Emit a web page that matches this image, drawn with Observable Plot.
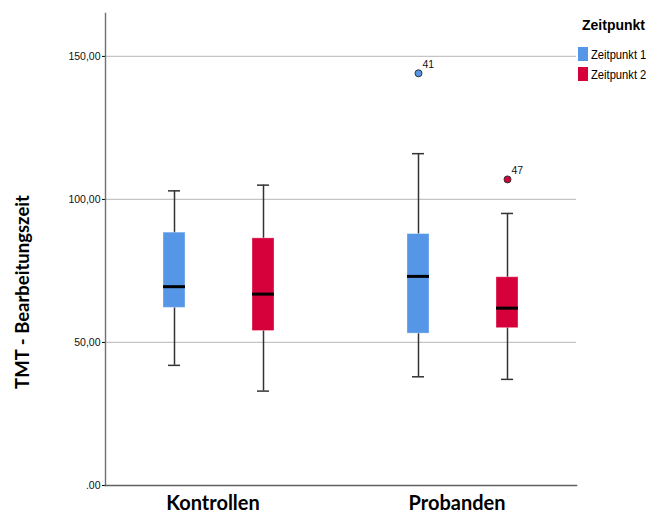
<!DOCTYPE html>
<html>
<head>
<meta charset="utf-8">
<script src="https://cdn.jsdelivr.net/npm/d3@7"></script>
<script src="https://cdn.jsdelivr.net/npm/@observablehq/plot@0.6"></script>
<style>
  body { margin: 0; background: #fff; }
  #wrap { position: relative; width: 646px; height: 515px; overflow: hidden; }
  #legend { position: absolute; left: 578px; top: 0; width: 68px; color: #000; }
  #legend .title { position: absolute; left: 4px; top: 17px; font: bold 14px/16px "Liberation Sans", Arial, sans-serif; white-space: nowrap; }
  #legend .item { position: absolute; left: 0; width: 68px; height: 14px; white-space: nowrap; }
  #legend .sw { position: absolute; left: 0; top: 0; width: 10px; height: 14px; }
  #legend .lab { position: absolute; left: 13px; top: 1px; white-space: nowrap; font: 13px/14px "Liberation Sans", Arial, sans-serif; transform: scaleX(0.86); transform-origin: 0 50%; }
  #ylab { position: absolute; left: -128px; top: 280px; width: 300px; height: 24px; line-height: 24px; text-align: center; transform: rotate(-90deg); font-family: Lato, "Open Sans", sans-serif; font-weight: bold; font-size: 18.5px; color: #000; white-space: nowrap; }
  svg g[aria-label="y-axis tick label"] text { font-family: "Liberation Sans", Arial, sans-serif; font-size: 10.5px; fill: #111; }
  svg g[aria-label="y-axis tick"] { stroke: #777; }
  svg g[aria-label="fx-axis tick label"] text { font-family: Lato, "Open Sans", sans-serif; font-size: 20px; font-weight: bold; fill: #000; }
</style>
</head>
<body>
<div id="wrap"></div>
<script>
// ---- data ----
const groups = ["Kontrollen", "Probanden"];
const series = ["Zeitpunkt 1", "Zeitpunkt 2"];
const colors = ["#5596E6", "#D6003A"];
// order of the five-number summaries: Kontrollen/Z1, Kontrollen/Z2, Probanden/Z1, Probanden/Z2
const whiskerLow  = [42.0, 33.0, 38.0, 37.1];
const quart1      = [62.1, 54.0, 53.1, 55.0];
const medians     = [69.5, 66.9, 73.1, 62.0];
const quart3      = [88.4, 86.4, 87.9, 72.8];
const whiskerHigh = [103.0, 105.0, 116.0, 95.1];
// outliers
const outlierGroup  = ["Probanden", "Probanden"];
const outlierSeries = ["Zeitpunkt 1", "Zeitpunkt 2"];
const outlierValue  = [144.1, 107.0];
const outlierLabel  = ["41", "47"];
// axis
const yTicks = [0, 50, 100, 150];
const yTickLabels = [".00", "50,00", "100,00", "150,00"];
const yLabel = "TMT - Bearbeitungszeit";
const legendTitle = "Zeitpunkt";

// ---- tables ----
const cells = groups.flatMap((g, gi) => series.map((s, si) => {
  const i = gi * series.length + si;
  return {group: g, series: s, lo: whiskerLow[i], q1: quart1[i], median: medians[i], q3: quart3[i], hi: whiskerHigh[i]};
}));
const outliers = outlierValue.map((v, i) => ({group: outlierGroup[i], series: outlierSeries[i], value: v, label: outlierLabel[i]}));
const gridTicks = yTicks.filter(t => t > 0);

// layout
const W = 646, H = 515, mL = 104, mR = 70, mT = 13, mB = 30;
const fxPadInner = 0.07;
const facetGap = fxPadInner * (W - mL - mR) / (groups.length - fxPadInner);

const chart = Plot.plot({
  width: W,
  height: H,
  marginTop: mT,
  marginBottom: mB,
  marginLeft: mL,
  marginRight: mR,
  style: {background: "#fff"},
  fx: {domain: groups, paddingInner: fxPadInner, paddingOuter: 0, label: null, axis: null},
  x: {domain: series, paddingInner: 0.756, paddingOuter: 0.64, axis: null},
  y: {domain: [0, 165], ticks: yTicks, tickFormat: d => yTickLabels[yTicks.indexOf(d)], tickSize: 3, tickPadding: 2, label: null},
  color: {domain: series, range: colors},
  marks: [
    // grid: first facet's rules extend over the gap between the facets
    Plot.ruleY(gridTicks, {y: d => d, fx: () => groups[0], insetRight: -facetGap, stroke: "#c4c4c4", strokeWidth: 1.3}),
    Plot.ruleY(gridTicks, {y: d => d, fx: () => groups[1], stroke: "#c4c4c4", strokeWidth: 1.3}),
    Plot.frame({anchor: "left", facet: "super", stroke: "#707070", strokeWidth: 1.4}),
    Plot.frame({anchor: "bottom", facet: "super", stroke: "#606060", strokeWidth: 1.6}),
    Plot.axisFx({anchor: "bottom", tickSize: 0, tickPadding: 10, dx: -6, label: null}),
    Plot.ruleX(cells, {fx: "group", x: "series", y1: "lo", y2: "hi", stroke: "#333", strokeWidth: 1.5}),
    Plot.tickY(cells, {fx: "group", x: "series", y: "lo", insetLeft: 5, insetRight: 5, stroke: "#333", strokeWidth: 1.5}),
    Plot.tickY(cells, {fx: "group", x: "series", y: "hi", insetLeft: 5, insetRight: 5, stroke: "#333", strokeWidth: 1.5}),
    Plot.barY(cells, {fx: "group", x: "series", y1: "q1", y2: "q3", fill: "series", stroke: "#fff", strokeOpacity: 0.35, strokeWidth: 1}),
    Plot.tickY(cells, {fx: "group", x: "series", y: "median", stroke: "#000", strokeWidth: 3}),
    Plot.dot(outliers, {fx: "group", x: "series", y: "value", fill: "series", stroke: "#333", strokeWidth: 1, r: 3.5}),
    Plot.text(outliers, {fx: "group", x: "series", y: "value", text: "label", dx: 4, dy: -9, textAnchor: "start", fontSize: 10.5, fontFamily: "Liberation Sans, Arial, sans-serif", fill: "#111"})
  ]
});

const wrap = document.getElementById("wrap");
wrap.appendChild(chart);

// y-axis title (HTML, rotated)
const ylab = document.createElement("div");
ylab.id = "ylab";
ylab.textContent = yLabel;
wrap.appendChild(ylab);

// legend (HTML, placed over the right margin)
const legend = document.createElement("div");
legend.id = "legend";
const t = document.createElement("div");
t.className = "title";
t.textContent = legendTitle;
legend.appendChild(t);
series.forEach((s, i) => {
  const item = document.createElement("div");
  item.className = "item";
  item.style.top = (47 + 20 * i) + "px";
  const sw = document.createElement("div");
  sw.className = "sw";
  sw.style.background = colors[i];
  const lab = document.createElement("div");
  lab.className = "lab";
  lab.textContent = s;
  item.appendChild(sw);
  item.appendChild(lab);
  legend.appendChild(item);
});
wrap.appendChild(legend);
</script>
</body>
</html>
